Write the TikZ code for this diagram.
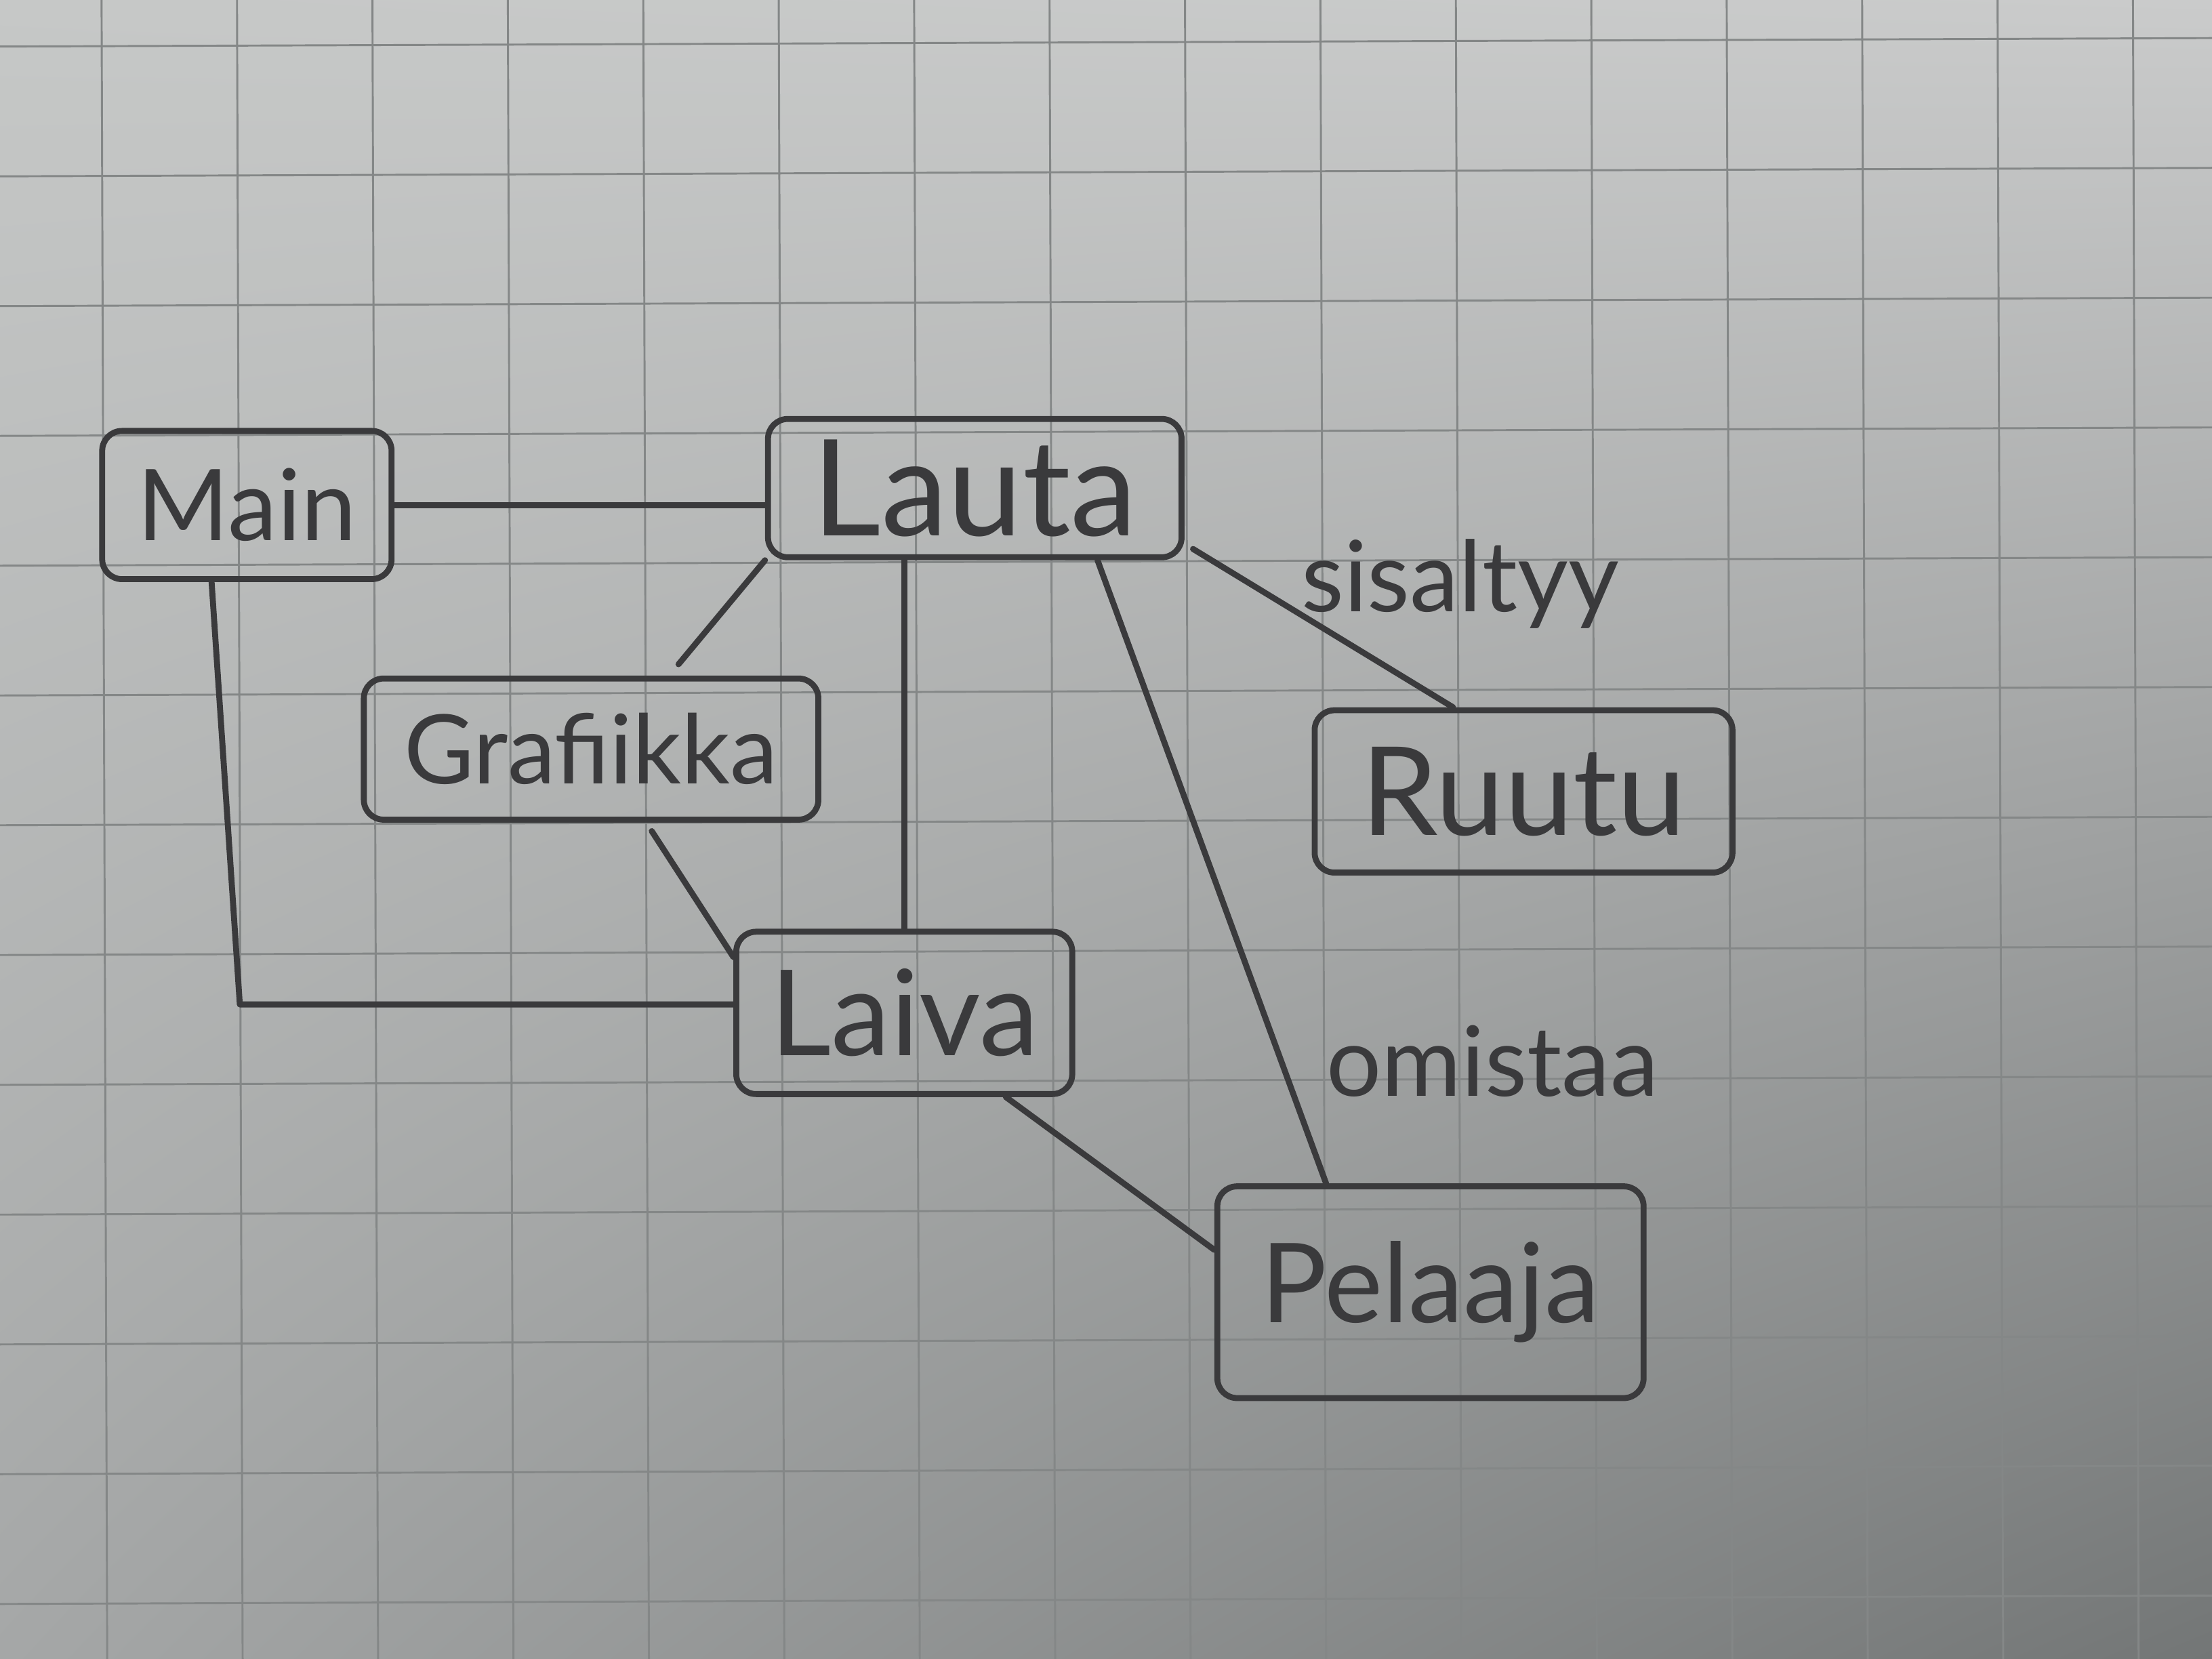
\documentclass[tikz,border=0pt]{standalone}
\usepackage{fontspec}
\setmainfont{Lato}
\usetikzlibrary{calc,shadings}
\definecolor{pencil}{RGB}{58,58,60}
\definecolor{gridc}{RGB}{132,135,135}
\definecolor{bgUL}{RGB}{198,200,199}
\definecolor{bgUR}{RGB}{202,203,203}
\definecolor{bgLL}{RGB}{165,167,167}
\definecolor{bgLR}{RGB}{115,118,118}
\newcommand\handtext[2]{\resizebox{#1}{!}{#2}}
\begin{document}
\begin{tikzpicture}[x=0.01cm,y=-0.01cm,
  cls/.style={draw=pencil,line width=1.2pt,rounded corners=4pt,inner sep=0pt,text=pencil},
  conn/.style={draw=pencil,line width=1.2pt,line cap=round,line join=round},
  lbl/.style={text=pencil,inner sep=0pt},
  paperline/.style={draw=gridc,line width=0.4pt}]
\useasboundingbox (0,0) rectangle (1568,1176);
% paper
\shade[upper left=bgUL,upper right=bgUR,lower left=bgLL,lower right=bgLR] (0,0) rectangle (1568,1176);
\foreach \gx in {72,168,...,1560} \draw[paperline] (\gx,0) -- (\gx+4,1176);
\foreach \gy in {30,122,...,1176} \draw[paperline] (0,\gy+3) -- (1568,\gy-3);

% classes
\node[cls,minimum width=2.05cm,minimum height=1.05cm] (main) at (175,358) {\handtext{1.55cm}{Main}};
\node[cls,minimum width=2.93cm,minimum height=0.98cm] (lauta) at (691,346) {\handtext{2.3cm}{Lauta}};
\node[cls,minimum width=3.22cm,minimum height=1.00cm] (grafiikka) at (419,531) {\handtext{2.65cm}{Grafiikka}};
\node[cls,minimum width=2.96cm,minimum height=1.15cm] (ruutu) at (1080,561) {\handtext{2.3cm}{Ruutu}};
\node[cls,minimum width=2.38cm,minimum height=1.15cm] (laiva) at (641,718) {\handtext{1.9cm}{Laiva}};
\node[cls,minimum width=3.02cm,minimum height=1.50cm] (pelaaja) at (1014,916) {\handtext{2.4cm}{Pelaaja}};

% connectors
\draw[conn] (main.east) -- (main.east -| lauta.west);
\draw[conn] (lauta.south west) -- ($(grafiikka.north)+(62,-8)$);
\draw[conn] (laiva.north |- lauta.south) -- (laiva.north);
\draw[conn] ($(lauta.south)+(87,0)$) -- ($(pelaaja.north)+(-74,0)$);
\draw[conn] ($(lauta.south east)+(6,-8)$) -- ($(ruutu.north)+(-50,0)$);
\draw[conn] ($(grafiikka.south)+(43,6)$) -- ($(laiva.north west)+(0,20)$);
\coordinate (mbend) at (170,712);
\draw[conn] ($(main.south)+(-25,0)$) -- (mbend) -- (mbend -| laiva.west);
\draw[conn] ($(laiva.south)+(72,0)$) -- ($(pelaaja.west)+(0,-30)$);

% labels
\node[lbl] (lsis) at (1035,414) {\handtext{2.25cm}{sisaltyy}};
\node[lbl] (loms) at (1058,752) {\handtext{2.35cm}{omistaa}};
\end{tikzpicture}
\end{document}
